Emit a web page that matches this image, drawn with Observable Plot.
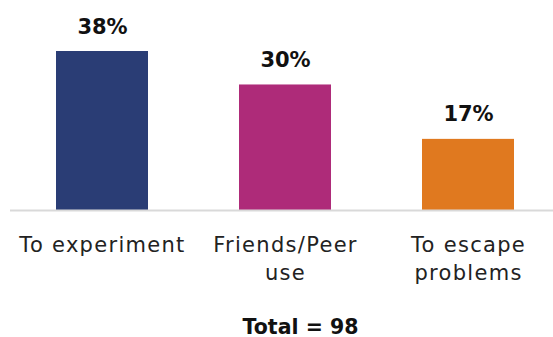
<!DOCTYPE html>
<html><head><meta charset="utf-8">
<script src="https://cdn.jsdelivr.net/npm/d3@7"></script>
<script src="https://cdn.jsdelivr.net/npm/@observablehq/plot@0.6"></script>
<style>body{margin:0;background:#fff} .tick-label{letter-spacing:1.3px}</style>
</head><body><div id="chart"></div>
<script>
const categories = ["To experiment", "Friends/Peer use", "To escape problems"];
const tickLabels = ["To experiment", "Friends/Peer\nuse", "To escape\nproblems"];
const values = [38, 30, 17];
const colors = ["#2a3d75", "#ae2b79", "#e0791f"];
const total = 98;

const data = categories.map((c, i) => ({cat: c, value: values[i], label: tickLabels[i]}));
const font = "DejaVu Sans";
const chart = Plot.plot({
  width: 553, height: 337,
  marginLeft: 10, marginRight: 0, marginTop: 0, marginBottom: 127,
  style: {fontFamily: font, background: "#fff"},
  x: {domain: categories, range: [10.5, 559.5], paddingInner: 0.5, paddingOuter: 0.25, axis: null},
  y: {domain: [0, 38], range: [210, 51], axis: null},
  color: {domain: categories, range: colors},
  marks: [
    Plot.barY(data, {x: "cat", y: "value", fill: "cat"}),
    Plot.ruleY([0], {stroke: "#d9d9d9", strokeWidth: 2}),
    Plot.text(data, {x: "cat", y: "value", text: d => d.value + "%", dy: -18, lineAnchor: "bottom", fontWeight: "bold", fontSize: 21, fill: "#111"}),
    Plot.text(data, {x: "cat", y: 0, text: "label", dy: 21, lineAnchor: "top", fontSize: 21, fill: "#222", lineHeight: 1.36, className: "tick-label"}),
    Plot.text([`Total = ${total}`], {frameAnchor: "bottom", text: d => d, dx: 18.5, dy: 123, lineAnchor: "bottom", fontWeight: "bold", fontSize: 20.5, fill: "#111"})
  ]
});
document.getElementById("chart").appendChild(chart);
</script></body></html>
